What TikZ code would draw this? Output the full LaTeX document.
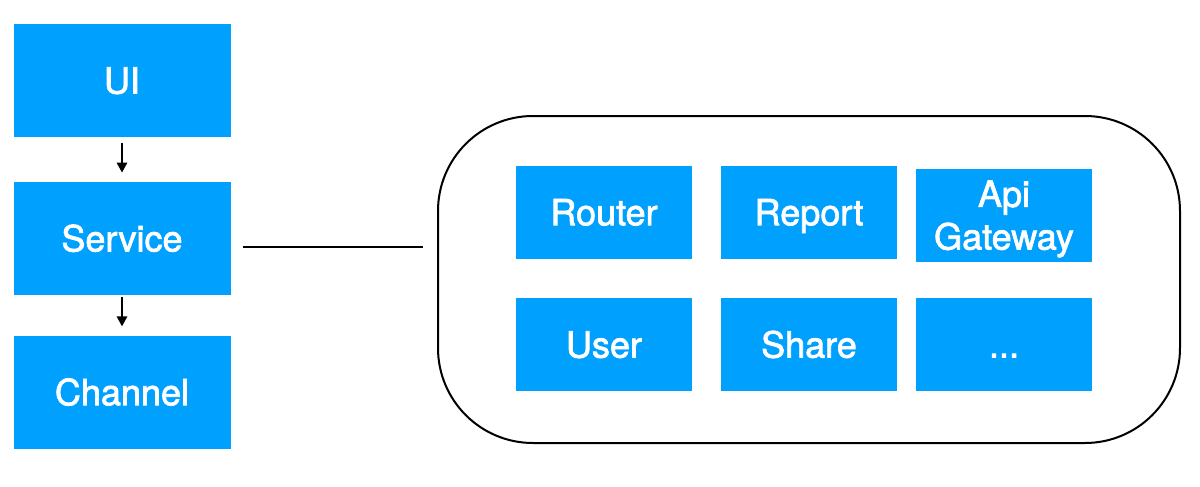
\documentclass[tikz,border=0pt]{standalone}
\usepackage{fontspec}
\setmainfont{TeX Gyre Heros}
\newfontfamily\boxfont{TeX Gyre Heros}[BoldFont={TeX Gyre Heros},BoldFeatures={FakeBold=2}]
\usetikzlibrary{arrows.meta}
\definecolor{boxblue}{HTML}{00A0FF}
\tikzset{
  bluebox/.style={fill=boxblue, draw=none, inner sep=0pt, text=white, align=center,
    font=\boxfont\bfseries\fontsize{36}{42.7}\selectfont, text height=25.8pt, text depth=0pt},
  leftbox/.style={bluebox, minimum width=217pt, minimum height=112.5pt},
  modbox/.style={bluebox, minimum width=176pt, minimum height=93pt},
  flow/.style={line width=1.6pt, -{Triangle[width=10.5pt,length=10pt]}},
  link/.style={line width=1.7pt},
  container/.style={draw, line width=2pt, rounded corners=95pt, minimum width=742pt, minimum height=327pt, inner sep=0pt}
}
\begin{document}
\begin{tikzpicture}[x=1pt,y=-1pt]
\useasboundingbox (0,0) rectangle (1200,487);
\node[leftbox] (ui) at (122,80.7) {UI};
\node[leftbox] (service) at (122,238.5) {Service};
\node[leftbox] (channel) at (122,392.3) {Channel};
\node[container] (group) at (809,279.5) {};
\node[modbox] (router) at (604,212.3) {Router};
\node[modbox] (report) at (809,212.3) {Report};
\node[modbox, text height=68.5pt] (api) at (1004,215.3) {Api\\Gateway};
\node[modbox] (user) at (604,344.7) {User};
\node[modbox] (share) at (809,344.7) {Share};
\node[modbox] (more) at (1004,344.7) {...};
\draw[flow, shorten <=5.5pt, shorten >=9.5pt] (ui.south) -- (service.north);
\draw[flow, shorten <=2pt, shorten >=9.5pt] (service.south) -- (channel.north);
\draw[link, shorten <=12.5pt, shorten >=14pt] ([yshift=-8.3pt]service.east) -- ([yshift=-8.3pt]service.east -| group.west);
\end{tikzpicture}
\end{document}
